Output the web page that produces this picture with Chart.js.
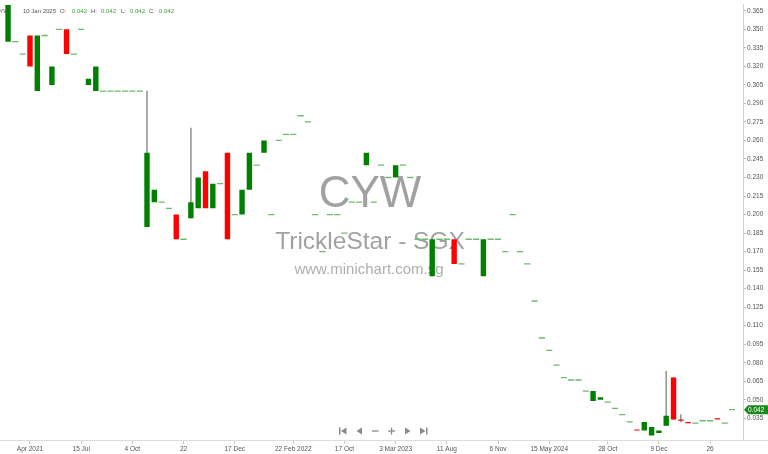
<!DOCTYPE html>
<html>
<head>
<meta charset="utf-8">
<script src="https://cdn.jsdelivr.net/npm/chart.js@4.4.1/dist/chart.umd.min.js"></script>
<style>
  html, body { margin: 0; padding: 0; background: #fff; }
  #chart { display: block; }
</style>
</head>
<body>
<canvas id="chart" width="768" height="454"></canvas>
<script>
// CYW (TrickleStar - SGX), one candle per traded session
const opens = [
  0.340, 0.340, 0.330, 0.345, 0.300, 0.345, 0.305, 0.350, 0.350, 0.330,
  0.350, 0.305, 0.300, 0.300, 0.300, 0.300, 0.300, 0.300, 0.300, 0.190,
  0.210, 0.210, 0.205, 0.200, 0.180, 0.197, 0.205, 0.235, 0.205, 0.225,
  0.250, 0.200, 0.200, 0.220, 0.240, 0.250, 0.200, 0.260, 0.265, 0.265,
  0.280, 0.275, 0.200, 0.170, 0.200, 0.200, 0.185, 0.210, 0.210, 0.240,
  0.210, 0.240, 0.230, 0.230, 0.240, 0.230, 0.180, 0.180, 0.150, 0.180,
  0.180, 0.180, 0.160, 0.180, 0.180, 0.150, 0.180, 0.180, 0.170, 0.200,
  0.170, 0.160, 0.130, 0.100, 0.090, 0.078, 0.068, 0.066, 0.066, 0.057,
  0.049, 0.050, 0.048, 0.043, 0.038, 0.032, 0.026, 0.025, 0.021, 0.023,
  0.029, 0.068, 0.034, 0.032, 0.031, 0.033, 0.033, 0.035, 0.031, 0.042
];
const closes = [
  0.370, 0.340, 0.330, 0.320, 0.345, 0.345, 0.320, 0.350, 0.330, 0.330,
  0.350, 0.310, 0.320, 0.300, 0.300, 0.300, 0.300, 0.300, 0.300, 0.250,
  0.220, 0.210, 0.205, 0.180, 0.180, 0.210, 0.230, 0.205, 0.225, 0.225,
  0.180, 0.200, 0.220, 0.250, 0.240, 0.260, 0.200, 0.260, 0.265, 0.265,
  0.280, 0.275, 0.200, 0.170, 0.200, 0.200, 0.185, 0.210, 0.210, 0.250,
  0.210, 0.240, 0.230, 0.240, 0.240, 0.230, 0.180, 0.180, 0.180, 0.180,
  0.180, 0.160, 0.160, 0.180, 0.180, 0.180, 0.180, 0.180, 0.170, 0.200,
  0.170, 0.160, 0.130, 0.100, 0.090, 0.078, 0.068, 0.066, 0.066, 0.057,
  0.057, 0.052, 0.048, 0.043, 0.038, 0.032, 0.025, 0.032, 0.028, 0.025,
  0.037, 0.034, 0.033, 0.031, 0.031, 0.033, 0.033, 0.034, 0.031, 0.042
];
// candles whose high/low reach beyond the body
const wickBars  = [19, 25, 90, 91, 92];
const wickHighs = [0.300, 0.270, 0.073, 0.068, 0.038];
const wickLows  = [0.190, 0.197, 0.029, 0.034, 0.032];

const xTickIndex  = [3, 10, 17, 24, 31, 39, 46, 53, 60, 67, 74, 82, 89, 96];
const xTickLabels = ['Apr 2021', '15 Jul', '4 Oct', '22', '17 Dec', '22 Feb 2022', '17 Oct',
                     '3 Mar 2023', '11 Aug', '6 Nov', '15 May 2024', '28 Oct', '9 Dec', '26'];
const yTicks = [0.035, 0.050, 0.065, 0.080, 0.095, 0.110, 0.125, 0.140, 0.155, 0.170, 0.185, 0.200,
                0.215, 0.230, 0.245, 0.260, 0.275, 0.290, 0.305, 0.320, 0.335, 0.350, 0.365];

const symbol = 'CYW';
const company = 'TrickleStar - SGX';
const site = 'www.minichart.com.sg';
const lastDate = '10 Jan 2025';

const FONT = "'Liberation Sans', Arial, sans-serif";
const GREEN = '#008000';
const RED = '#ff0000';
const DOJI = '#6dbb6d';

const n = opens.length;
// one spare slot on the right, like the chart's empty future bar
const categories = Array.from({ length: n + 1 }, (_, i) => String(i));

const bodyData = opens.map((o, i) => (o === closes[i] ? null : [o, closes[i]]));
const bodyColors = opens.map((o, i) => (closes[i] >= o ? GREEN : RED));
const dojiData = opens.map((o, i) => (o === closes[i] ? o : null));
const wickData = categories.map(() => null);
wickBars.forEach((b, k) => { wickData[b] = [wickLows[k], wickHighs[k]]; });

// watermark, header line, nav buttons, last price tag
const decor = {
    id: 'decor',
    beforeDatasetsDraw(chart) {
        const ctx = chart.ctx;
        ctx.save();
        ctx.textAlign = 'center';
        ctx.textBaseline = 'alphabetic';
        ctx.fillStyle = 'rgba(145,145,145,0.85)';
        ctx.font = '44px ' + FONT;
        ctx.fillText(symbol, 370, 206.5);
        ctx.font = '24.5px ' + FONT;
        ctx.fillText(company, 370, 248.5);
        ctx.fillStyle = 'rgba(160,160,160,0.85)';
        ctx.font = '15px ' + FONT;
        ctx.fillText(site, 369, 273.5);
        ctx.restore();
    },
    afterDraw(chart) {
        const ctx = chart.ctx;
        const area = chart.chartArea;
        ctx.save();

        // bottom separator across the whole width
        ctx.strokeStyle = '#dcdcdc';
        ctx.lineWidth = 1;
        ctx.beginPath();
        ctx.moveTo(0, area.bottom + 0.5);
        ctx.lineTo(chart.width, area.bottom + 0.5);
        ctx.stroke();

        // header: symbol, date, OHLC of the last bar
        const last = n - 1;
        ctx.font = '6px ' + FONT;
        ctx.textBaseline = 'alphabetic';
        ctx.textAlign = 'left';
        const grey = '#555';
        const val = '#3a9e3a';
        const parts = [
            [symbol, -5, grey], [lastDate, 23, grey],
            ['O:', 60, grey], [opens[last].toFixed(3), 72, val],
            ['H:', 91, grey], [opens[last].toFixed(3), 101, val],
            ['L:', 121, grey], [closes[last].toFixed(3), 130, val],
            ['C:', 149, grey], [closes[last].toFixed(3), 159, val]
        ];
        parts.forEach(p => { ctx.fillStyle = p[2]; ctx.fillText(p[0], p[1], 12.5); });

        // navigation buttons
        const ny = 431;
        ctx.fillStyle = '#8a8a8a';
        const tri = (x0, x1) => {
            ctx.beginPath();
            ctx.moveTo(x0, ny);
            ctx.lineTo(x1, ny - 3.5);
            ctx.lineTo(x1, ny + 3.5);
            ctx.closePath();
            ctx.fill();
        };
        ctx.fillRect(339, ny - 3.5, 1.5, 7);
        tri(341, 346.5);
        tri(356.5, 362);
        ctx.fillRect(372, ny - 0.6, 6.5, 1.3);
        ctx.fillRect(388, ny - 0.6, 7, 1.3);
        ctx.fillRect(390.9, ny - 3.5, 1.3, 7);
        tri(410.5, 405);
        tri(425.5, 420);
        ctx.fillRect(426, ny - 3.5, 1.5, 7);

        // last price tag on the price axis
        const y = chart.scales.y.getPixelForValue(closes[last]);
        const x0 = area.right;
        ctx.fillStyle = '#1a8a1a';
        ctx.beginPath();
        ctx.moveTo(x0 + 1, y);
        ctx.lineTo(x0 + 5, y - 4.5);
        ctx.lineTo(chart.width, y - 4.5);
        ctx.lineTo(chart.width, y + 4.5);
        ctx.lineTo(x0 + 5, y + 4.5);
        ctx.closePath();
        ctx.fill();
        ctx.fillStyle = '#fff';
        ctx.font = '6.5px ' + FONT;
        ctx.textBaseline = 'middle';
        ctx.fillText(closes[last].toFixed(3), x0 + 5, y + 0.5);
        ctx.restore();
    }
};

const ctx = document.getElementById('chart').getContext('2d');
new Chart(ctx, {
    type: 'bar',
    data: {
        labels: categories,
        datasets: [
            {
                type: 'bar',
                data: wickData,
                backgroundColor: '#9a9a9a',
                barThickness: 1,
                grouped: false,
                order: 3
            },
            {
                type: 'bar',
                data: bodyData,
                backgroundColor: bodyColors,
                borderWidth: 0,
                categoryPercentage: 1,
                barPercentage: 0.74,
                grouped: false,
                order: 2
            },
            {
                type: 'line',
                data: dojiData,
                showLine: false,
                pointStyle: 'line',
                pointRadius: 3.1,
                pointHoverRadius: 3.1,
                pointBorderWidth: 1.3,
                pointBorderColor: DOJI,
                pointBackgroundColor: DOJI,
                order: 1
            }
        ]
    },
    options: {
        responsive: false,
        animation: false,
        layout: { padding: 0 },
        plugins: {
            legend: { display: false },
            tooltip: { enabled: false }
        },
        scales: {
            x: {
                offset: true,
                border: { display: false },
                grid: { offset: false, drawOnChartArea: false, tickLength: 4, color: '#c8c8c8' },
                ticks: {
                    autoSkip: false,
                    maxRotation: 0,
                    padding: 1,
                    color: '#555',
                    font: { size: 6.5, family: FONT },
                    callback: v => xTickLabels[xTickIndex.indexOf(v)]
                },
                afterBuildTicks: s => { s.ticks = xTickIndex.map(v => ({ value: v })); },
                afterFit: s => { s.height = 14; }
            },
            y: {
                position: 'right',
                min: 0.0174,
                max: 0.3698,
                border: { display: true, color: '#cfcfcf' },
                grid: { drawOnChartArea: false, tickLength: 3, color: '#bdbdbd' },
                ticks: {
                    padding: 1,
                    color: '#555',
                    font: { size: 6.5, family: FONT },
                    callback: v => v.toFixed(3)
                },
                afterBuildTicks: s => { s.ticks = yTicks.map(v => ({ value: v })); },
                afterFit: s => { s.width = 25; }
            }
        }
    },
    plugins: [decor]
});
</script>
</body>
</html>
